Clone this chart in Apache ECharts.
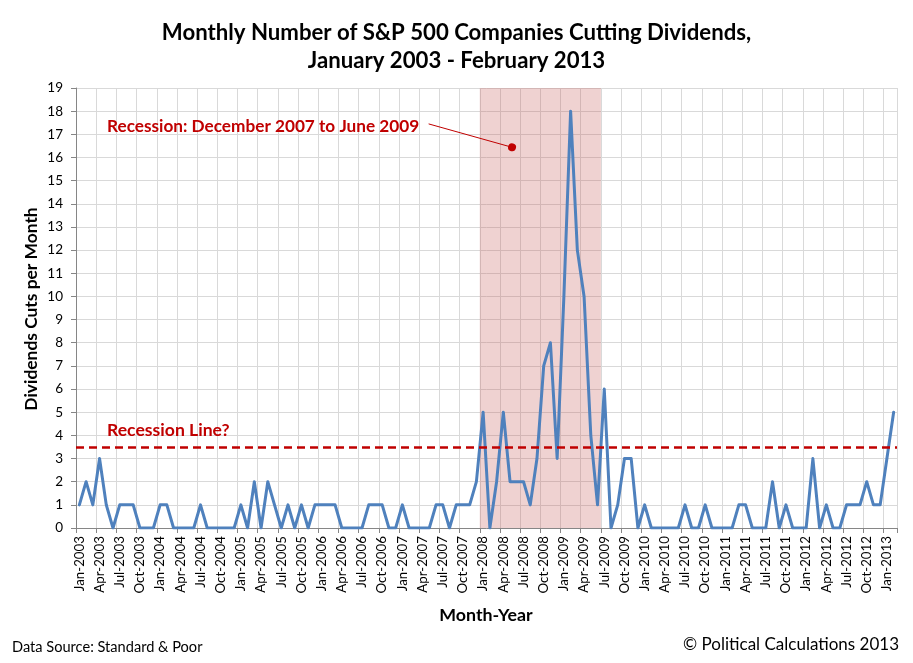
<!DOCTYPE html>
<html>
<head>
<meta charset="utf-8">
<script src="https://cdn.jsdelivr.net/npm/echarts@6/dist/echarts.min.js"></script>
<style>
  html, body { margin: 0; padding: 0; background: #fff; }
  #chart { width: 913px; height: 663px; }
</style>
</head>
<body>
<div id="chart"></div>
<script>
// ---- Data ----
const monthNames = ['Jan','Feb','Mar','Apr','May','Jun','Jul','Aug','Sep','Oct','Nov','Dec'];
const firstYear = 2003, lastYear = 2013, lastMonthIndexOfLastYear = 1; // through Feb-2013
const months = [];
for (let y = firstYear; y <= lastYear; y++) {
  for (let m = 0; m < 12; m++) {
    if (y === lastYear && m > lastMonthIndexOfLastYear) break;
    months.push(monthNames[m] + '-' + y);
  }
}
const dividendCuts = [
  1,2,1,3,1,0,1,1,1,0,0,0,        // 2003
  1,1,0,0,0,0,1,0,0,0,0,0,        // 2004
  1,0,2,0,2,1,0,1,0,1,0,1,        // 2005
  1,1,1,0,0,0,0,1,1,1,0,0,        // 2006
  1,0,0,0,0,1,1,0,1,1,1,2,        // 2007
  5,0,2,5,2,2,2,1,3,7,8,3,        // 2008
  10,18,12,10,4,1,6,0,1,3,3,0,    // 2009
  1,0,0,0,0,0,1,0,0,1,0,0,        // 2010
  0,0,1,1,0,0,0,2,0,1,0,0,        // 2011
  0,3,0,1,0,0,1,1,1,2,1,1,        // 2012
  3,5                             // 2013
];
const recessionFirstMonth = 'Jan-2008';
const recessionLastMonth = 'Jun-2009';
const recessionLineLevel = 3.5;
const yTicks = { min: 0, max: 19, step: 1 };
const titleLines = ['Monthly Number of S&P 500 Companies Cutting Dividends,', 'January 2003 - February 2013'];
// annotation arrow ends in (month-slot, value) units
const annotationArrow = [[52.4, 17.45], [64.8, 16.44]];

// ---- Chart ----
const FONT = 'Lato';
const RED = '#c00000';
const chart = echarts.init(document.getElementById('chart'), null, { renderer: 'canvas' });
const recStart = months.indexOf(recessionFirstMonth);
const recEnd = months.indexOf(recessionLastMonth) + 1;

const option = {
  animation: false,
  backgroundColor: '#ffffff',
  textStyle: { fontFamily: FONT },
  title: [
    { text: titleLines[0], left: 'center', top: 14,
      textStyle: { fontFamily: FONT, fontWeight: 'bold', fontSize: 22.2, lineHeight: 28, color: '#000' } },
    { text: titleLines[1], left: 'center', top: 42,
      textStyle: { fontFamily: FONT, fontWeight: 'bold', fontSize: 22.2, lineHeight: 28, color: '#000' } }
  ],
  grid: { left: 76, right: 16, top: 88, bottom: 135, containLabel: false },
  xAxis: [
    {
      type: 'category', data: months, boundaryGap: true,
      axisLine: { show: true, lineStyle: { color: '#868686', width: 1 } },
      axisTick: { show: true, interval: 2, length: 5, lineStyle: { color: '#868686' } },
      axisLabel: { interval: 2, rotate: 90, fontSize: 13.3, color: '#000', margin: 8, fontFamily: FONT },
      splitLine: { show: true, interval: 2, lineStyle: { color: '#d9d9d9', width: 1 } }
    },
    { type: 'value', min: 0, max: months.length, show: false }
  ],
  yAxis: {
    type: 'value', min: yTicks.min, max: yTicks.max, interval: yTicks.step,
    axisLine: { show: true, lineStyle: { color: '#868686', width: 1 } },
    axisTick: { show: true, length: 5, lineStyle: { color: '#868686' } },
    axisLabel: { fontSize: 13.5, color: '#000', margin: 13, fontFamily: FONT },
    splitLine: { show: true, lineStyle: { color: '#d9d9d9', width: 1 } }
  },
  series: [
    {
      name: 'Dividend cuts', type: 'line', data: dividendCuts,
      xAxisIndex: 0, yAxisIndex: 0, z: 2,
      symbol: 'none', showSymbol: false,
      lineStyle: { color: '#4f81bd', width: 3, join: 'round', cap: 'round' }
    },
    {
      name: 'recession', type: 'line', data: [], xAxisIndex: 1, yAxisIndex: 0, z: 3,
      silent: true,
      markArea: {
        silent: true,
        itemStyle: { color: 'rgba(192,80,77,0.26)' },
        data: [[{ xAxis: recStart }, { xAxis: recEnd }]]
      }
    },
    {
      name: 'lines', type: 'line', data: [], xAxisIndex: 1, yAxisIndex: 0, z: 4,
      silent: true,
      markLine: {
        silent: true, symbol: 'none', label: { show: false },
        data: [
          { yAxis: recessionLineLevel, lineStyle: { color: RED, width: 2.5, type: [8, 5] } },
          [
            { coord: annotationArrow[0], symbol: 'none', lineStyle: { color: RED, width: 1, type: 'solid' } },
            { coord: annotationArrow[1], symbol: 'circle', symbolSize: 8, itemStyle: { color: RED } }
          ]
        ]
      }
    }
  ],
  graphic: [
    { type: 'text', x: 31, y: 309, rotation: Math.PI / 2,
      style: { text: 'Dividends Cuts per Month', font: 'bold 17.4px ' + FONT, fill: '#000', align: 'center', verticalAlign: 'middle' } },
    { type: 'text', x: 486, y: 615,
      style: { text: 'Month-Year', font: 'bold 17.8px ' + FONT, fill: '#000', align: 'center', verticalAlign: 'middle' } },
    { type: 'text', x: 107, y: 430, z: 10,
      style: { text: 'Recession Line?', font: 'bold 17.6px ' + FONT, fill: RED, align: 'left', verticalAlign: 'middle' } },
    { type: 'text', x: 107, y: 126, z: 10,
      style: { text: 'Recession: December 2007 to June 2009', font: 'bold 17.2px ' + FONT, fill: RED, align: 'left', verticalAlign: 'middle' } },
    { type: 'text', x: 12, y: 647,
      style: { text: 'Data Source: Standard & Poor', font: '14.6px ' + FONT, fill: '#000', align: 'left', verticalAlign: 'middle' } },
    { type: 'text', x: 899, y: 645,
      style: { text: '\u00a9 Political Calculations 2013', font: '17px ' + FONT, fill: '#000', align: 'right', verticalAlign: 'middle' } }
  ]
};
chart.setOption(option);
</script>
</body>
</html>
